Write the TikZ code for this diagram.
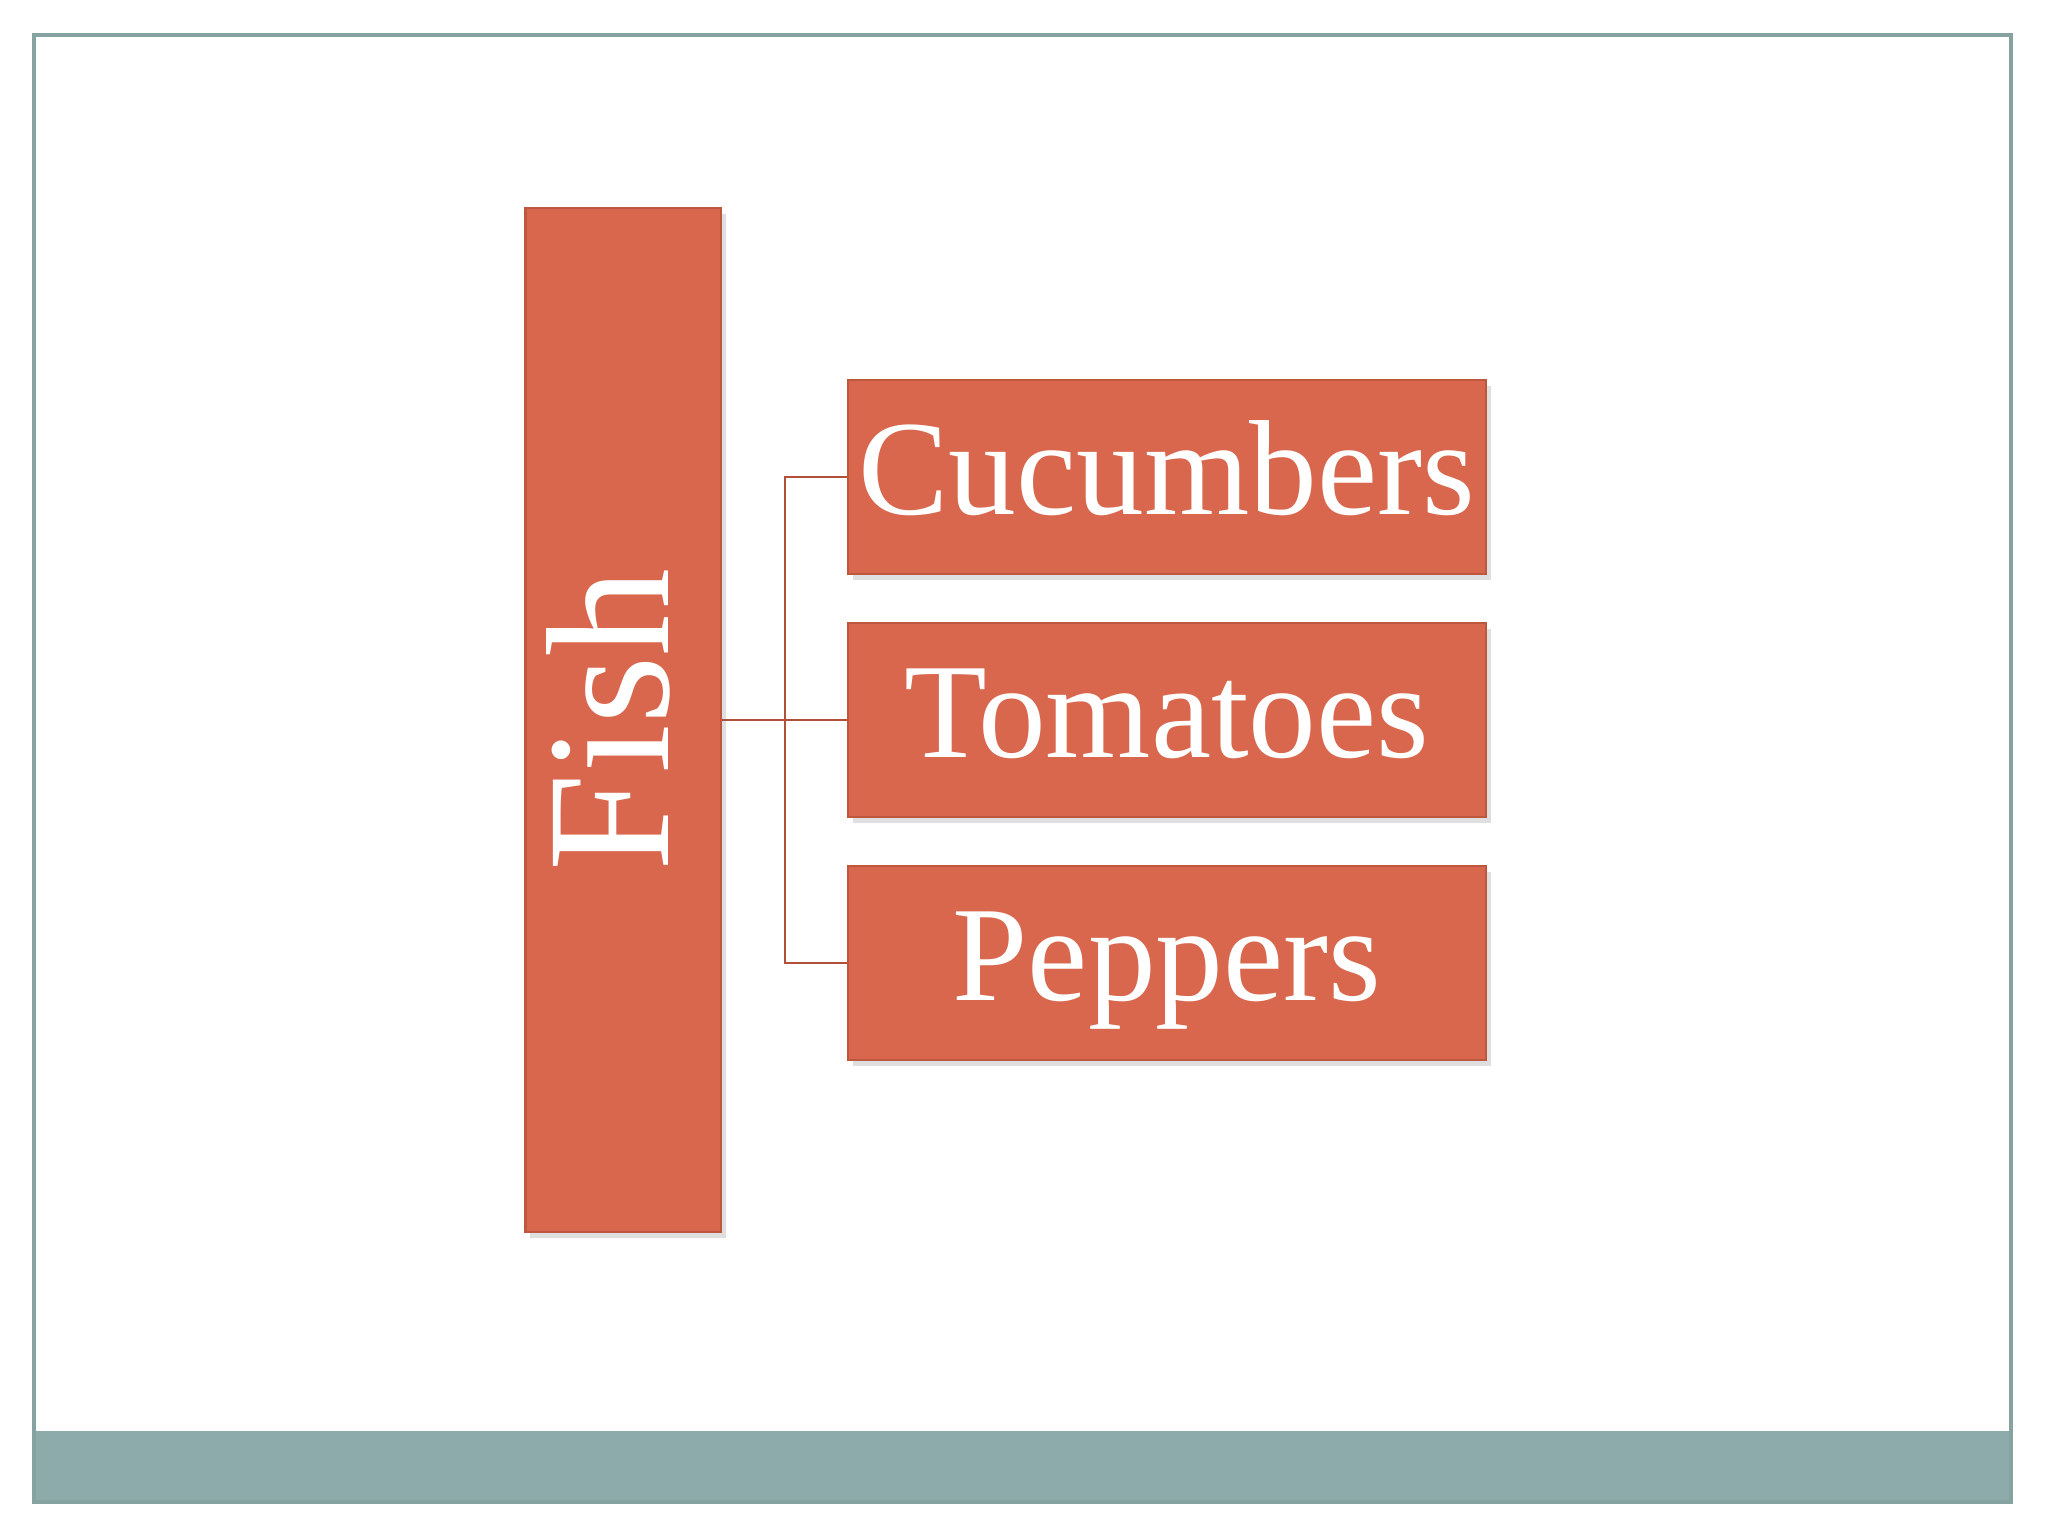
\documentclass[tikz,border=0pt]{standalone}
\usepackage{fontspec}
\setmainfont{Liberation Serif}
\usepackage{graphicx}
\usetikzlibrary{shadows}

\definecolor{boxfill}{HTML}{D9674E}
\definecolor{boxline}{HTML}{BE573F}
\definecolor{linkline}{HTML}{B0503B}
\definecolor{barfill}{HTML}{8DABAA}
\definecolor{frameline}{HTML}{86A3A1}

\tikzset{
  rootbox/.style={draw=boxline, fill=boxfill, line width=0.6pt, inner sep=0pt,
    minimum width=1.95cm, minimum height=10.24cm, text=white,
    font=\fontsize{50}{58}\selectfont,
    drop shadow={opacity=0.25, shadow xshift=0.5mm, shadow yshift=-0.6mm}},
  leafbox/.style={draw=boxline, fill=boxfill, line width=0.6pt, inner sep=0pt,
    minimum width=6.37cm, minimum height=1.94cm, text=white,
    text height=1.04cm, text depth=0.3cm,
    font=\fontsize{38.5}{46}\selectfont,
    drop shadow={opacity=0.25, shadow xshift=0.5mm, shadow yshift=-0.6mm}},
  link/.style={draw=linkline, line width=0.6pt}
}

\begin{document}
\begin{tikzpicture}[x=0.01cm, y=-0.01cm]
    \useasboundingbox (0,0) rectangle (2048,1536);

    % Slide frame and bottom bar
    \fill[barfill] (34,1431) rectangle (2011,1502);
    \draw[frameline, line width=0.9pt] (34,35) rectangle (2011,1502);

    % Root box with upright text
    \node[rootbox] (fish) at (623,720) {\rotatebox{90}{\rule[-0.3cm]{0pt}{1.26cm}Fish}};

    % The three leaves
    \node[leafbox] (cucumbers) at (1167,477) {Cucumbers};
    \node[leafbox] (tomatoes) at (1167,720) {Tomatoes};
    \node[leafbox] (peppers) at (1167,963) {Peppers};

    % Connectors through the trunk
    \coordinate (hub) at (785,720);
    \draw[link] (fish.east) -- (hub);
    \draw[link] (hub) |- (cucumbers.west);
    \draw[link] (hub) -- (tomatoes.west);
    \draw[link] (hub) |- (peppers.west);
\end{tikzpicture}
\end{document}
